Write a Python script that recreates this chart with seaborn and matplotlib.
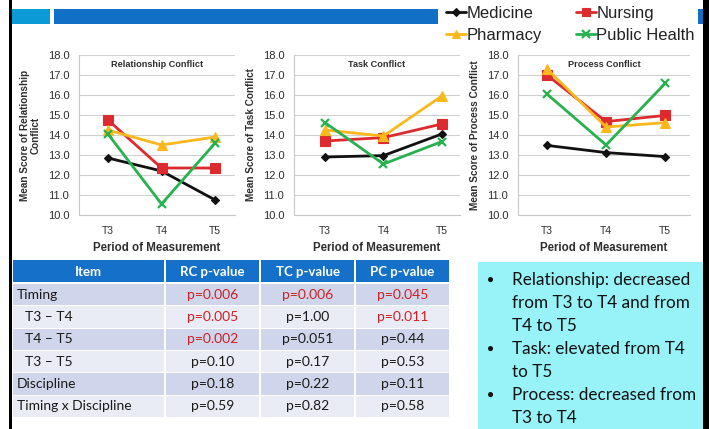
import matplotlib
matplotlib.use("Agg")
import matplotlib.pyplot as plt
from matplotlib.patches import Rectangle
from matplotlib.lines import Line2D
import seaborn as sns
import pandas as pd

# ---- data -------------------------------------------------------------
periods = ["T3", "T4", "T5"]
disciplines = ["Medicine", "Nursing", "Pharmacy", "Public Health"]

# mean scores per discipline (rows follow `disciplines`)
relationship_scores = [
    [12.85, 12.20, 10.75],
    [14.75, 12.35, 12.35],
    [14.25, 13.50, 13.90],
    [14.05, 10.55, 13.60],
]
task_scores = [
    [12.90, 12.97, 14.05],
    [13.70, 13.87, 14.55],
    [14.25, 13.95, 15.95],
    [14.62, 12.55, 13.67],
]
process_scores = [
    [13.48, 13.12, 12.92],
    [17.00, 14.67, 14.98],
    [17.30, 14.40, 14.62],
    [16.05, 13.50, 16.58],
]

panel_titles = ["Relationship Conflict", "Task Conflict", "Process Conflict"]
panel_ylabels = ["Mean Score of Relationship\nConflict",
                 "Mean Score of Task Conflict",
                 "Mean Score of Process Conflict"]
y_ticks = [10.0, 11.0, 12.0, 13.0, 14.0, 15.0, 16.0, 17.0, 18.0]

table_header = ["Item", "RC p-value", "TC p-value", "PC p-value"]
table_items = ["Timing", "T3 \u2013 T4", "T4 \u2013 T5", "T3 \u2013 T5",
               "Discipline", "Timing x Discipline"]
item_indented = [False, True, True, True, False, False]
rc_pvalues = ["p=0.006", "p=0.005", "p=0.002", "p=0.10", "p=0.18", "p=0.59"]
tc_pvalues = ["p=0.006", "p=1.00", "p=0.051", "p=0.17", "p=0.22", "p=0.82"]
pc_pvalues = ["p=0.045", "p=0.011", "p=0.44", "p=0.53", "p=0.11", "p=0.58"]

findings = [
    ["Relationship: decreased", "from T3 to T4 and from", "T4 to T5"],
    ["Task: elevated from T4", "to T5"],
    ["Process: decreased from", "T3 to T4"],
]

# ---- styling ----------------------------------------------------------
sns.set_theme(style="white")
plt.rcParams["font.family"] = ["Liberation Sans", "DejaVu Sans"]

palette = {"Medicine": "#111111", "Nursing": "#dc2a2e",
           "Pharmacy": "#fbb71c", "Public Health": "#27b24f"}
markers = {"Medicine": "D", "Nursing": "s", "Pharmacy": "^", "Public Health": "o"}
final_markers = {"Medicine": "D", "Nursing": "s", "Pharmacy": "^",
                 "Public Health": "x"}
marker_sizes = {"Medicine": 4.5, "Nursing": 6.5, "Pharmacy": 7, "Public Health": 6}

W, H = 709, 429
fig = plt.figure(figsize=(W / 100, H / 100), dpi=100)
fig.patch.set_facecolor("white")

# page decoration layer in pixel coordinates
bg = fig.add_axes([0, 0, 1, 1], zorder=0)
bg.set_xlim(0, W)
bg.set_ylim(H, 0)
bg.axis("off")
bg.add_patch(Rectangle((9, 0), 3, H, color="black", lw=0))
bg.add_patch(Rectangle((703, 0), 6, H, color="black", lw=0))
bg.add_patch(Rectangle((12, 9), 38, 15, color="#0a9bd6", lw=0))
bg.add_patch(Rectangle((54, 9), 384, 15, color="#1170c6", lw=0))
bg.add_patch(Rectangle((698, 9), 5, 15, color="#1170c6", lw=0))


def px_axes(left, top, right, bottom):
    return fig.add_axes([left / W, 1 - bottom / H, (right - left) / W,
                         (bottom - top) / H], zorder=2)


def style_line(line, disc):
    line.set_marker(final_markers[disc])
    line.set_markersize(marker_sizes[disc])
    line.set_markeredgecolor(palette[disc])
    line.set_markerfacecolor(palette[disc])
    line.set_markeredgewidth(1.6 if disc == "Public Health" else 0.8)


panel_boxes = [(79, 55, 235, 215), (294, 55, 460, 215), (518, 55, 690, 215)]
panel_xlims = [(-0.54, 2.37), (-0.53, 2.31), (-0.49, 2.42)]
panel_data = [relationship_scores, task_scores, process_scores]

text_col = "#2e2e2e"
for box, xlim, scores, title, ylab in zip(panel_boxes, panel_xlims, panel_data,
                                          panel_titles, panel_ylabels):
    ax = px_axes(*box)
    rows = []
    for disc, vals in zip(disciplines, scores):
        for per, v in zip(periods, vals):
            rows.append({"Period": per, "Discipline": disc, "Score": v})
    df = pd.DataFrame(rows)
    sns.lineplot(data=df, x="Period", y="Score", hue="Discipline",
                 style="Discipline", hue_order=disciplines,
                 style_order=disciplines, palette=palette, markers=markers,
                 dashes=False, linewidth=2.0, legend=False, ax=ax, zorder=3)
    for line, disc in zip(ax.lines, disciplines):
        style_line(line, disc)
    ax.set_xlim(*xlim)
    ax.set_ylim(10, 18)
    ax.set_yticks(y_ticks)
    ax.set_yticklabels([f"{t:.1f}" for t in y_ticks])
    ax.grid(axis="y", color="#d0d0d0", linewidth=0.8)
    ax.set_axisbelow(True)
    for side in ["top", "right"]:
        ax.spines[side].set_visible(False)
    for side in ["left", "bottom"]:
        ax.spines[side].set_color("#c8c8c8")
        ax.spines[side].set_linewidth(0.8)
    ax.tick_params(axis="y", length=3, width=0.8, color="#c8c8c8",
                   labelsize=8, labelcolor=text_col, pad=4)
    ax.tick_params(axis="x", length=0, labelsize=7.5, labelcolor=text_col,
                   pad=8)
    ax.set_xlabel("Period of Measurement", fontsize=8.3, fontweight="bold",
                  color=text_col, labelpad=4)
    ax.set_ylabel(ylab, fontsize=7.2, fontweight="bold", color=text_col,
                  labelpad=5, linespacing=1.1)
    ax.text(0.5, 0.94, title, transform=ax.transAxes, ha="center",
            va="center", fontsize=6.6, fontweight="bold", color=text_col)
    ax.set_facecolor("none")

# shared legend at the top right
handles = []
for d in disciplines:
    h = Line2D([], [], color=palette[d], lw=2.0)
    style_line(h, d)
    h.set_markersize(marker_sizes[d] * 0.85)
    handles.append(h)
order = [0, 2, 1, 3]
leg = fig.legend([handles[i] for i in order], [disciplines[i] for i in order],
                 ncol=2, loc="upper left", bbox_to_anchor=(446 / W, 1 - 6 / H),
                 frameon=False, fontsize=12, handlelength=1.2,
                 handletextpad=0.05, columnspacing=2.0, labelspacing=0.4,
                 borderaxespad=0, borderpad=0)
for t in leg.get_texts():
    t.set_color("#222222")

# ---- p-value table ----------------------------------------------------
tfont = ["Lato", "DejaVu Sans"]
col_edges = [12, 165, 260, 355, 450]
header_top, header_bot = 260, 282
row_top, row_h = 283.5, 22.3
gap = 1.0

for c in range(4):
    x0, x1 = col_edges[c], col_edges[c + 1]
    bg.add_patch(Rectangle((x0 + gap, header_top), x1 - x0 - 2 * gap,
                           header_bot - header_top, color="#1470c8", lw=0))
    bg.text((x0 + x1) / 2, (header_top + header_bot) / 2 + 0.5,
            table_header[c], ha="center", va="center", color="white",
            fontsize=9.5, fontweight="bold", family=tfont)

value_cols = [rc_pvalues, tc_pvalues, pc_pvalues]
for r, item in enumerate(table_items):
    y0 = row_top + r * row_h
    fill = "#cfd5ea" if r % 2 == 0 else "#e9ebf5"
    yc = y0 + row_h / 2
    for c in range(4):
        x0, x1 = col_edges[c], col_edges[c + 1]
        bg.add_patch(Rectangle((x0 + gap, y0 + gap / 2), x1 - x0 - 2 * gap,
                               row_h - gap, color=fill, lw=0))
    bg.text(25 if item_indented[r] else 17, yc, item, ha="left",
            va="center", fontsize=10, color="#1a1a1a", family=tfont)
    for c, vals in enumerate(value_cols, start=1):
        txt = vals[r]
        significant = float(txt.split("=")[1]) < 0.05
        bg.text((col_edges[c] + col_edges[c + 1]) / 2, yc, txt, ha="center",
                va="center", fontsize=10,
                color="#d01f24" if significant else "#1a1a1a", family=tfont)

# ---- findings box -----------------------------------------------------
bg.add_patch(Rectangle((478, 262), 225, H - 262, color="#97f3f8", lw=0))
line_y = 280
for block in findings:
    bg.text(491, line_y, "\u25cf", ha="center", va="center", fontsize=8.5,
            color="#111111")
    for ln in block:
        bg.text(512, line_y, ln, ha="left", va="center", fontsize=12.3,
                color="#111111", family=tfont)
        line_y += 23

fig.savefig("out.png", dpi=100)
